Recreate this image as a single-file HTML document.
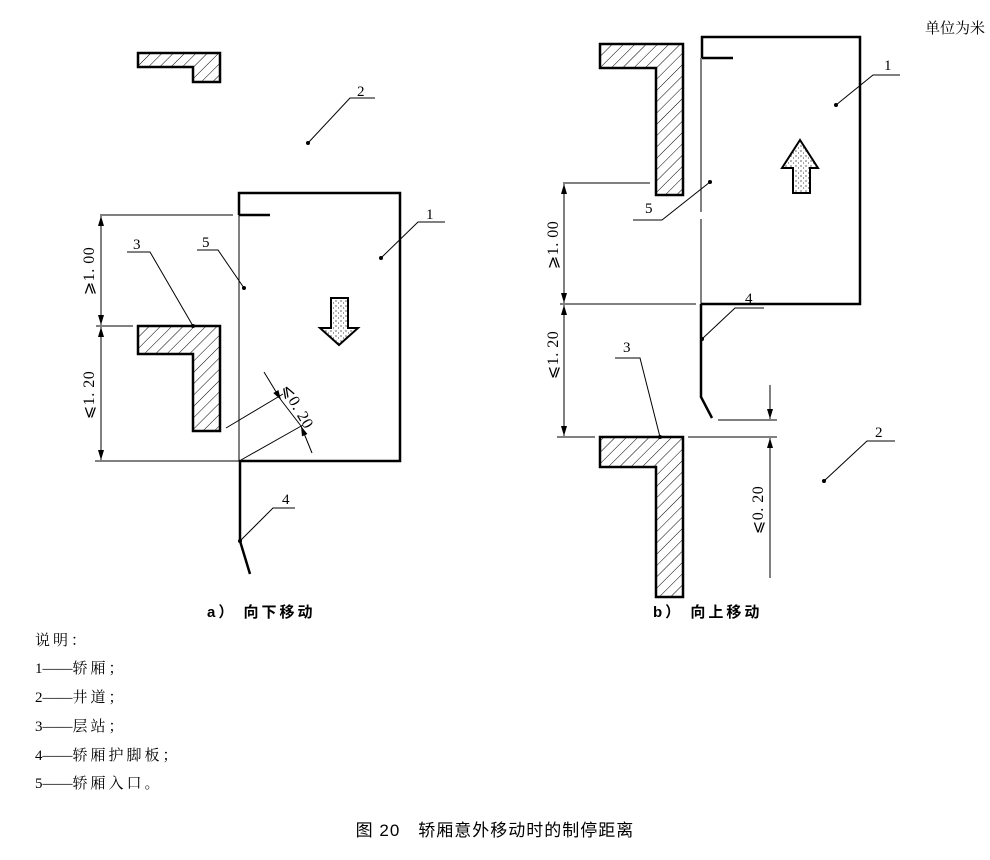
<!DOCTYPE html>
<html><head><meta charset="utf-8"><style>
html,body{margin:0;padding:0;background:#fff;}
svg{display:block}
text{font-family:"Liberation Serif","Noto Serif CJK SC","Noto Sans CJK SC",serif;fill:#000}
.h{font-family:"Liberation Sans","Noto Sans CJK SC",sans-serif;font-weight:bold}
</style></head><body>
<svg width="990" height="860" viewBox="0 0 990 860" xmlns="http://www.w3.org/2000/svg">
<defs>
<pattern id="hat" patternUnits="userSpaceOnUse" width="8" height="8" patternTransform="rotate(45)">
<line x1="0" y1="0" x2="0" y2="8" stroke="#000" stroke-width="1"/>
</pattern>
<pattern id="dots" patternUnits="userSpaceOnUse" width="5" height="5">
<circle cx="1" cy="1" r="0.6" fill="#000"/><circle cx="3.5" cy="3" r="0.5" fill="#000"/>
</pattern>
<marker id="ar" markerWidth="10" markerHeight="6" refX="10" refY="3" orient="auto" markerUnits="userSpaceOnUse">
<path d="M0,0 L10,3 L0,6 z" fill="#000"/></marker>
</defs>
<g stroke="#000" fill="none">
<!-- LEFT -->
<polygon points="138,53 220,53 220,82 193,82 193,67 138,67" fill="url(#hat)" stroke-width="2.5"/>
<polygon points="138,326 220,326 220,431 193,431 193,354 138,354" fill="url(#hat)" stroke-width="2.5"/>
<path d="M239,215 L239,193 L400,193 L400,461 L239,461" stroke-width="2.5"/>
<path d="M239,215 L270,215" stroke-width="2.5"/>
<path d="M239,215 L239,461" stroke-width="1"/>
<path d="M240,461 L240,541 L250,574" stroke-width="2.5"/>
<path d="M100,215 L233,215 M96,326 L133,326 M95,461 L240,461" stroke-width="1"/>
<path d="M101,270 L101,216" marker-end="url(#ar)" stroke-width="1"/>
<path d="M101,270 L101,325" marker-end="url(#ar)" stroke-width="1"/>
<path d="M101,390 L101,327" marker-end="url(#ar)" stroke-width="1"/>
<path d="M101,390 L101,460" marker-end="url(#ar)" stroke-width="1"/>
<path d="M226,428 L283,394 M241,460 L303,425" stroke-width="1"/>
<path d="M264,372 L281,400" marker-end="url(#ar)" stroke-width="1"/>
<path d="M312,453 L301,426" marker-end="url(#ar)" stroke-width="1"/>
<path d="M281,400 L301,426" stroke-width="1"/>
<path d="M127,252 L150,252 L193,326 M197,250 L218,250 L244,288 M445,222 L418,222 L381,258 M375,98 L350,98 L308,143 M295,508 L273,508 L240,541" stroke-width="1"/>
<polygon points="331,298 348,298 348,328 358,328 339,345 320,328 331,328" fill="url(#dots)" stroke-width="2"/>
<!-- RIGHT -->
<polygon points="600,44 683,44 683,195 656,195 656,68 600,68" fill="url(#hat)" stroke-width="2.5"/>
<polygon points="600,437 683,437 683,597 656,597 656,467 600,467" fill="url(#hat)" stroke-width="2.5"/>
<path d="M702,58 L702,37 L860,37 L860,304 L701,304" stroke-width="2.5"/>
<path d="M702,58 L733,58" stroke-width="2.5"/>
<path d="M701,58 L701,212 M701,219 L701,304" stroke-width="1"/>
<path d="M701,304 L701,397 L712,418" stroke-width="2.5"/>
<path d="M563,183 L650,183 M560,304 L696,304 M557,437 L595,437 M688,437 L777,437 M718,420 L777,420" stroke-width="1"/>
<path d="M564,240 L564,184" marker-end="url(#ar)" stroke-width="1"/>
<path d="M564,240 L564,303" marker-end="url(#ar)" stroke-width="1"/>
<path d="M564,370 L564,305" marker-end="url(#ar)" stroke-width="1"/>
<path d="M564,370 L564,436" marker-end="url(#ar)" stroke-width="1"/>
<path d="M770,385 L770,419" marker-end="url(#ar)" stroke-width="1"/>
<path d="M770,578 L770,438" marker-end="url(#ar)" stroke-width="1"/>
<path d="M615,358 L640,358 L660,437 M764,308 L735,308 L702,339 M633,220 L662,220 L710,182 M900,75 L873,75 L836,105 M895,441 L867,441 L824,481" stroke-width="1"/>
<polygon points="793,193 810,193 810,168 818,168 800,140 782,168 793,168" fill="url(#dots)" stroke-width="2"/>
</g>
<g fill="#000">
<circle cx="193" cy="326" r="2"/><circle cx="244" cy="288" r="2"/><circle cx="381" cy="258" r="2"/><circle cx="308" cy="143" r="2"/><circle cx="240" cy="541" r="2"/>
<circle cx="660" cy="437" r="2"/><circle cx="702" cy="339" r="2"/><circle cx="710" cy="182" r="2"/><circle cx="836" cy="105" r="2"/><circle cx="824" cy="481" r="2"/>
</g>
<g font-size="15">
<text x="357" y="96">2</text><text x="426" y="219">1</text><text x="133" y="249">3</text><text x="202" y="247">5</text><text x="282" y="504">4</text>
<text x="884" y="70">1</text><text x="645" y="213">5</text><text x="745" y="303">4</text><text x="623" y="352">3</text><text x="875" y="437">2</text>
<g font-size="16" letter-spacing="0.5">
<text transform="translate(94,271) rotate(-90)" text-anchor="middle">⩾1. 00</text>
<text transform="translate(94,395) rotate(-90)" text-anchor="middle">⩽1. 20</text>
<text transform="translate(558,245) rotate(-90)" text-anchor="middle">⩾1. 00</text>
<text transform="translate(558,355) rotate(-90)" text-anchor="middle">⩽1. 20</text>
<text transform="translate(763,510) rotate(-90)" text-anchor="middle">⩽0. 20</text>
<text transform="translate(293,409) rotate(60)" text-anchor="middle">⩽0. 20</text>
</g>
<text x="985" y="33" text-anchor="end">单位为米</text>
<text x="35" y="645" letter-spacing="3">说明：</text>
<text x="35" y="673">1——<tspan letter-spacing="3">轿厢；</tspan></text>
<text x="35" y="702">2——<tspan letter-spacing="3">井道；</tspan></text>
<text x="35" y="731">3——<tspan letter-spacing="3">层站；</tspan></text>
<text x="35" y="760">4——<tspan letter-spacing="3">轿厢护脚板；</tspan></text>
<text x="35" y="788">5——<tspan letter-spacing="3">轿厢入口。</tspan></text>
</g>
<text x="207" y="617" font-size="15" class="h" letter-spacing="3">a）  向下移动</text>
<text x="653" y="617" font-size="15" class="h" letter-spacing="3">b）  向上移动</text>
<text x="495" y="836" font-size="17" text-anchor="middle" font-family="Liberation Sans, Noto Sans CJK SC, sans-serif" style="font-family:'Liberation Sans','Noto Sans CJK SC',sans-serif" letter-spacing="1">图 20　轿厢意外移动时的制停距离</text>
</svg>
</body></html>
